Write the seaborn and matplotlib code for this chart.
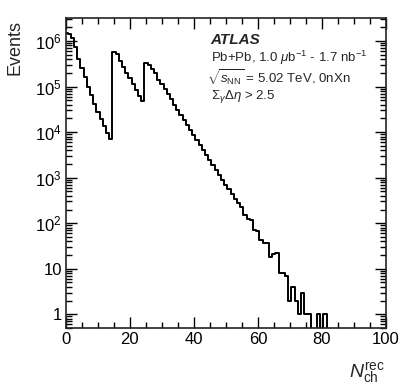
import matplotlib
matplotlib.use("Agg")
import matplotlib.pyplot as plt
import matplotlib.ticker as mticker
import numpy as np
import pandas as pd
import seaborn as sns

# reconstructed track multiplicity, one bin per integer value
nch = list(range(0, 82))
events = [
    1.5e6, 1.45e6, 1.15e6, 7.5e5, 4.0e5, 2.5e5, 1.6e5, 1.0e5, 6.6e4, 4.2e4,
    2.8e4, 1.9e4, 1.35e4, 9.4e3, 7.0e3, 5.7e5, 5.15e5, 3.7e5, 2.75e5, 2.03e5,
    1.53e5, 1.13e5, 8.2e4, 6.2e4, 4.8e4, 3.36e5, 3.0e5, 2.4e5, 1.97e5, 1.40e5,
    1.13e5, 8.7e4, 6.8e4, 5.2e4, 4.0e4, 3.1e4, 2.4e4, 1.85e4, 1.45e4, 1.12e4,
    8700, 6800, 5300, 4100, 3200, 2450, 1900, 1480, 1150, 890,
    700, 560, 440, 345, 275, 225, 150, 125, 118, 72,
    68, 43, 37, 36, 18, 21, 22, 8, 8, 7,
    2, 4, 2, 1, 3, 1, 1, 0, 0, 1,
    0, 1,
]

y_ticks = [1, 10, 1e2, 1e3, 1e4, 1e5, 1e6]
y_tick_labels = ["1", "10", "10$^{2}$", "10$^{3}$", "10$^{4}$", "10$^{5}$", "10$^{6}$"]
x_ticks = [0, 20, 40, 60, 80, 100]

sns.set_style("ticks")
plt.rcParams["font.family"] = ["Liberation Sans", "DejaVu Sans"]
plt.rcParams["mathtext.fontset"] = "custom"
plt.rcParams["mathtext.rm"] = "Liberation Sans"
plt.rcParams["mathtext.it"] = "Liberation Sans:italic"
plt.rcParams["mathtext.bf"] = "Liberation Sans:bold"

df = pd.DataFrame({"nch": nch, "events": events})

fig = plt.figure(figsize=(4.07, 3.91), dpi=100)
ax = fig.add_axes([0.162, 0.161, 0.786, 0.793])
ax.set_yscale("log")

sns.histplot(data=df, x="nch", weights="events", binwidth=1, binrange=(-0.5, 100.5),
             element="step", fill=False, color="black", linewidth=1.4, ax=ax)

ax.set_xlim(0, 100)
ax.set_ylim(0.5, 3.2e6)

ax.xaxis.set_major_locator(mticker.FixedLocator(x_ticks))
ax.xaxis.set_minor_locator(mticker.MultipleLocator(5))
ax.yaxis.set_major_locator(mticker.FixedLocator(y_ticks))
ax.yaxis.set_major_formatter(mticker.FixedFormatter(y_tick_labels))
ax.yaxis.set_minor_locator(mticker.LogLocator(base=10, subs=np.arange(2, 10)))
ax.yaxis.set_minor_formatter(mticker.NullFormatter())

ax.tick_params(which="both", direction="in", top=True, right=True, width=1, colors="black")
ax.tick_params(which="major", length=8, labelsize=12, pad=3)
ax.tick_params(which="minor", length=4)
for sp in ax.spines.values():
    sp.set_linewidth(1.2)
    sp.set_color("#222222")

ax.set_xlabel("")
ax.set_ylabel("")
fig.text(0.945, 0.015, r"$N_{\rm ch}^{\rm rec}$", ha="right", va="bottom", fontsize=14)
fig.text(0.017, 0.949, "Events", rotation=90, ha="left", va="top", fontsize=13)

ax.text(0.452, 0.928, "ATLAS", transform=ax.transAxes, fontsize=11,
        fontweight="bold", fontstyle="italic", va="center")
ax.text(0.452, 0.870, r"Pb+Pb, 1.0 $\mu$b$^{-1}$ - 1.7 nb$^{-1}$", transform=ax.transAxes,
        fontsize=9.5, va="center")
ax.text(0.44, 0.806, r"$\sqrt{s_{\rm NN}}$ = 5.02 TeV, 0nXn", transform=ax.transAxes,
        fontsize=9.5, va="center")
ax.text(0.452, 0.746, r"$\Sigma_{\gamma}\Delta\eta$ > 2.5", transform=ax.transAxes,
        fontsize=9.5, va="center")

fig.savefig("out.png", dpi=100)
